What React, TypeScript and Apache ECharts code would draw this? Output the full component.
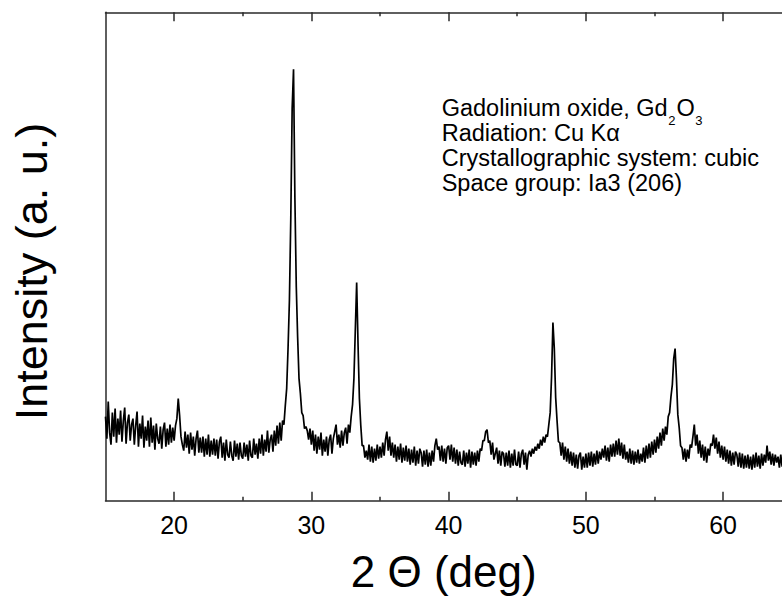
import React, { useEffect, useRef } from "react";
import * as echarts from "echarts";

// 2θ scan grid (degrees)
const scanStart = 15;
const scanStep = 0.1;

// Intensity (a. u.), one row per degree
const intensity: number[] = [
  /* 15 */ 84, 62, 99, 68, 56, 88, 64, 92, 58, 82,
  /* 16 */ 66, 90, 59, 80, 93, 57, 78, 86, 60, 76,
  /* 17 */ 82, 56, 75, 89, 54, 77, 62, 85, 53, 74,
  /* 18 */ 60, 80, 54, 83, 58, 75, 51, 77, 62, 57,
  /* 19 */ 74, 52, 71, 78, 54, 72, 56, 76, 58, 73,
  /* 20 */ 60, 75, 82, 102, 85, 64, 56, 50, 69, 53,
  /* 21 */ 66, 47, 68, 51, 64, 45, 62, 70, 48, 63,
  /* 22 */ 48, 64, 44, 62, 46, 66, 44, 60, 46, 62,
  /* 23 */ 45, 61, 42, 59, 64, 43, 58, 40, 61, 46,
  /* 24 */ 43, 59, 45, 40, 60, 44, 57, 41, 58, 45,
  /* 25 */ 42, 58, 44, 56, 40, 60, 45, 43, 62, 46,
  /* 26 */ 57, 42, 62, 47, 66, 45, 61, 49, 70, 48,
  /* 27 */ 61, 66, 49, 70, 55, 75, 57, 78, 60, 80,
  /* 28 */ 76, 95, 112, 152, 200, 282, 392, 431, 302, 214,
  /* 29 */ 163, 122, 107, 88, 85, 72, 74, 70, 61, 72,
  /* 30 */ 56, 70, 50, 66, 47, 64, 51, 68, 45, 61,
  /* 31 */ 49, 64, 45, 61, 66, 47, 62, 69, 76, 56,
  /* 32 */ 66, 53, 70, 55, 68, 73, 57, 76, 68, 84,
  /* 33 */ 96, 122, 170, 218, 156, 102, 75, 55, 55, 43,
  /* 34 */ 50, 41, 56, 39, 54, 38, 52, 40, 56, 42,
  /* 35 */ 54, 43, 58, 45, 61, 69, 50, 64, 45, 58,
  /* 36 */ 43, 56, 39, 54, 41, 57, 38, 53, 40, 55,
  /* 37 */ 39, 52, 36, 51, 38, 54, 35, 50, 37, 52,
  /* 38 */ 48, 34, 50, 36, 51, 34, 48, 35, 50, 39,
  /* 39 */ 55, 62, 51, 54, 40, 55, 39, 52, 37, 53,
  /* 40 */ 55, 41, 56, 39, 53, 37, 51, 35, 49, 38,
  /* 41 */ 36, 50, 34, 48, 37, 51, 33, 49, 36, 48,
  /* 42 */ 35, 50, 39, 52, 50, 60, 60, 69, 71, 58,
  /* 43 */ 60, 46, 58, 41, 47, 53, 37, 50, 35, 49,
  /* 44 */ 47, 34, 48, 35, 50, 33, 47, 35, 51, 36,
  /* 45 */ 35, 49, 33, 47, 51, 36, 48, 31, 46, 50,
  /* 46 */ 44, 52, 47, 54, 50, 57, 52, 61, 55, 64,
  /* 47 */ 58, 66, 64, 76, 88, 124, 178, 152, 103, 80,
  /* 48 */ 59, 58, 45, 58, 41, 54, 39, 52, 37, 49,
  /* 49 */ 35, 48, 33, 46, 32, 45, 48, 31, 44, 33,
  /* 50 */ 47, 33, 48, 35, 49, 34, 47, 36, 50, 37,
  /* 51 */ 49, 41, 52, 43, 55, 40, 53, 39, 56, 44,
  /* 52 */ 57, 44, 60, 46, 62, 45, 58, 42, 56, 41,
  /* 53 */ 49, 38, 52, 37, 50, 36, 49, 38, 51, 37,
  /* 54 */ 47, 39, 53, 38, 55, 42, 57, 43, 59, 46,
  /* 55 */ 61, 48, 64, 52, 68, 55, 72, 60, 74, 66,
  /* 56 */ 84, 88, 104, 116, 142, 152, 122, 86, 73, 55,
  /* 57 */ 53, 41, 52, 39, 51, 42, 56, 53, 64, 76,
  /* 58 */ 55, 66, 47, 60, 43, 56, 40, 54, 38, 52,
  /* 59 */ 45, 57, 55, 66, 52, 63, 47, 59, 43, 55,
  /* 60 */ 41, 54, 39, 51, 37, 50, 35, 48, 36, 49,
  /* 61 */ 46, 34, 48, 33, 47, 32, 45, 33, 46, 32,
  /* 62 */ 44, 31, 46, 33, 48, 34, 45, 32, 47, 35,
  /* 63 */ 46, 38, 55, 40, 49, 36, 47, 35, 46, 38,
  /* 64 */ 44, 33, 46, 34, 45, 32,
];

const xMin = 15;
const xMax = 64.29;
const majorTicks = [20, 30, 40, 50, 60];
const minorTicks = [25, 35, 45, 55];

// first annotation line, split around its subscripts
const formulaParts = [
  { text: "Gadolinium oxide, Gd", sub: false },
  { text: "2", sub: true },
  { text: "O", sub: false },
  { text: "3", sub: true },
];
const annotationLines = [
  "Radiation: Cu Kα",
  "Crystallographic system: cubic",
  "Space group: Ia3 (206)",
];

const FONT = "'Liberation Sans', Arial, Helvetica, sans-serif";
const AXIS_COLOR = "#2a2a2a";
const NOTE_SIZE = 23.5;
const SUB_SIZE = 13;

function measure(text: string, size: number): number {
  const c = document.createElement("canvas").getContext("2d");
  if (!c) return text.length * size * 0.55;
  c.font = `${size}px ${FONT}`;
  return c.measureText(text).width;
}

export default function App() {
  const ref = useRef<HTMLDivElement>(null);

  useEffect(() => {
    if (!ref.current) return;
    const chart = echarts.init(ref.current, undefined, { renderer: "svg" });

    const data = intensity.map((v, i) => [
      Number((scanStart + i * scanStep).toFixed(2)),
      v,
    ]);

    const baseAxis = {
      type: "value" as const,
      min: xMin,
      max: xMax,
      interval: 5,
      splitLine: { show: false },
    };

    const noteX = 441.7;
    const noteY = 108;
    const formulaEls: any[] = [];
    let cx = noteX;
    formulaParts.forEach((p) => {
      const size = p.sub ? SUB_SIZE : NOTE_SIZE;
      formulaEls.push({
        type: "text",
        x: cx,
        y: p.sub ? noteY + 12 : noteY,
        style: {
          text: p.text,
          fontSize: size,
          fontFamily: FONT,
          fill: "#000",
          align: "left",
          verticalAlign: "middle",
          textAlign: "left",
          textVerticalAlign: "middle",
        },
      });
      cx += measure(p.text, size) + (p.sub ? 1 : 0.5);
    });

    chart.setOption({
      animation: false,
      backgroundColor: "#ffffff",
      grid: {
        left: 105.5,
        right: 0,
        top: 12.3,
        bottom: 96.3,
        containLabel: false,
        outerBoundsMode: "none",
      },
      xAxis: [
        {
          ...baseAxis,
          position: "bottom",
          axisLine: { show: true, lineStyle: { color: AXIS_COLOR, width: 1.5 } },
          axisTick: {
            show: true,
            inside: true,
            length: 9,
            customValues: majorTicks,
            lineStyle: { color: AXIS_COLOR, width: 1.5 },
          },
          axisLabel: {
            show: true,
            customValues: majorTicks,
            fontSize: 25,
            fontFamily: FONT,
            color: "#000",
            margin: 12,
          },
          name: "2 Θ (deg)",
          nameLocation: "middle",
          nameGap: 49,
          nameTextStyle: { fontSize: 44, fontFamily: FONT, color: "#000" },
        },
        {
          ...baseAxis,
          position: "bottom",
          axisLine: { show: false },
          axisTick: {
            show: true,
            inside: true,
            length: 4,
            customValues: minorTicks,
            lineStyle: { color: AXIS_COLOR, width: 1.5 },
          },
          axisLabel: { show: false },
        },
        {
          ...baseAxis,
          position: "top",
          axisLine: { show: true, lineStyle: { color: AXIS_COLOR, width: 1.5 } },
          axisTick: {
            show: true,
            inside: true,
            length: 9,
            customValues: majorTicks,
            lineStyle: { color: AXIS_COLOR, width: 1.5 },
          },
          axisLabel: { show: false },
        },
        {
          ...baseAxis,
          position: "top",
          axisLine: { show: false },
          axisTick: {
            show: true,
            inside: true,
            length: 4,
            customValues: minorTicks,
            lineStyle: { color: AXIS_COLOR, width: 1.5 },
          },
          axisLabel: { show: false },
        },
      ],
      yAxis: {
        type: "value",
        min: 0,
        max: 488,
        axisLine: { show: true, lineStyle: { color: AXIS_COLOR, width: 1.5 } },
        axisTick: { show: false },
        axisLabel: { show: false },
        splitLine: { show: false },
      },
      series: [
        {
          type: "line",
          xAxisIndex: 0,
          data,
          showSymbol: false,
          symbol: "none",
          clip: true,
          lineStyle: { color: "#000", width: 1.7 },
        },
      ],
      graphic: [
        {
          type: "text",
          x: 31,
          y: 271.5,
          rotation: Math.PI / 2,
          style: {
            text: "Intensity (a. u.)",
            fontSize: 45,
            fontFamily: FONT,
            fill: "#000",
            align: "center",
            verticalAlign: "middle",
            textAlign: "center",
            textVerticalAlign: "middle",
          },
        },
        ...formulaEls,
        {
          type: "text",
          x: noteX,
          y: noteY + 25,
          style: {
            text: annotationLines.join("\n"),
            fontSize: NOTE_SIZE,
            lineHeight: 25,
            fontFamily: FONT,
            fill: "#000",
            align: "left",
            verticalAlign: "top",
            textAlign: "left",
            textVerticalAlign: "top",
            padding: [-12.5, 0, 0, 0],
          },
        },
      ],
    });

    return () => chart.dispose();
  }, []);

  return (
    <div
      ref={ref}
      style={{ position: "fixed", left: 0, top: 0, width: 782, height: 597 }}
    />
  );
}
